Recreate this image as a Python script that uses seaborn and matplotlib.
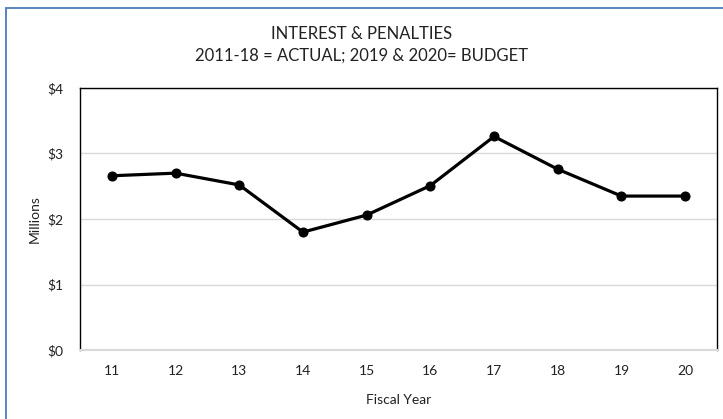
import matplotlib
matplotlib.use("Agg")
import matplotlib.pyplot as plt
from matplotlib.lines import Line2D
import seaborn as sns
import pandas as pd

fiscal_years = [11, 12, 13, 14, 15, 16, 17, 18, 19, 20]
interest_penalties = [2.66, 2.70, 2.52, 1.80, 2.06, 2.51, 3.26, 2.76, 2.35, 2.35]
y_ticks = [0, 1, 2, 3, 4]
y_labels = ["$0", "$1", "$2", "$3", "$4"]

sns.set_style("white")
plt.rcParams["font.family"] = ["Lato", "DejaVu Sans"]

df = pd.DataFrame({"Fiscal Year": fiscal_years, "Millions": interest_penalties})

fig = plt.figure(figsize=(7.23, 4.19), dpi=100)
ax = fig.add_axes([80 / 723, 69 / 419, 637 / 723, 262 / 419])

sns.lineplot(data=df, x="Fiscal Year", y="Millions", ax=ax, color="black",
             linewidth=2.3, marker="o", markersize=6.5, markeredgecolor="black",
             zorder=3)

ax.set_xlim(10.5, 20.5)
ax.set_ylim(0, 4)
ax.set_xticks(fiscal_years)
ax.set_xticklabels([str(v) for v in fiscal_years], fontsize=10, color="#222222")
ax.set_yticks(y_ticks)
ax.set_yticklabels(y_labels, fontsize=10, color="#222222")
ax.tick_params(axis="both", length=0)
ax.tick_params(axis="x", pad=11)
ax.tick_params(axis="y", pad=12)

ax.grid(axis="y", color="#d9d9d9", linewidth=1.0, zorder=0)
ax.set_axisbelow(True)
for side in ("left", "top", "right"):
    ax.spines[side].set_color("black")
    ax.spines[side].set_linewidth(1.0)
ax.spines["bottom"].set_color("#d9d9d9")
ax.spines["bottom"].set_linewidth(1.5)

ax.set_xlabel("Fiscal Year", fontsize=10, color="#222222", labelpad=12)
ax.set_ylabel("Millions", fontsize=10, color="#222222", labelpad=5)

fig.text(0.5, 1 - 34 / 419, "INTEREST & PENALTIES", ha="center", va="center",
         fontsize=12, color="#222222")
fig.text(0.5, 1 - 56 / 419, "2011-18 = ACTUAL; 2019 & 2020= BUDGET", ha="center",
         va="center", fontsize=12, color="#222222")

# chart frame along the top and left edges
border = "#4a7ebb"
fig.add_artist(Line2D([6.5 / 723, 6.5 / 723], [0, 1 - 8 / 419],
                      transform=fig.transFigure, color=border, linewidth=1.3))
fig.add_artist(Line2D([6.5 / 723, 1], [1 - 8 / 419, 1 - 8 / 419],
                      transform=fig.transFigure, color=border, linewidth=1.3))

fig.savefig("out.png", dpi=100)
